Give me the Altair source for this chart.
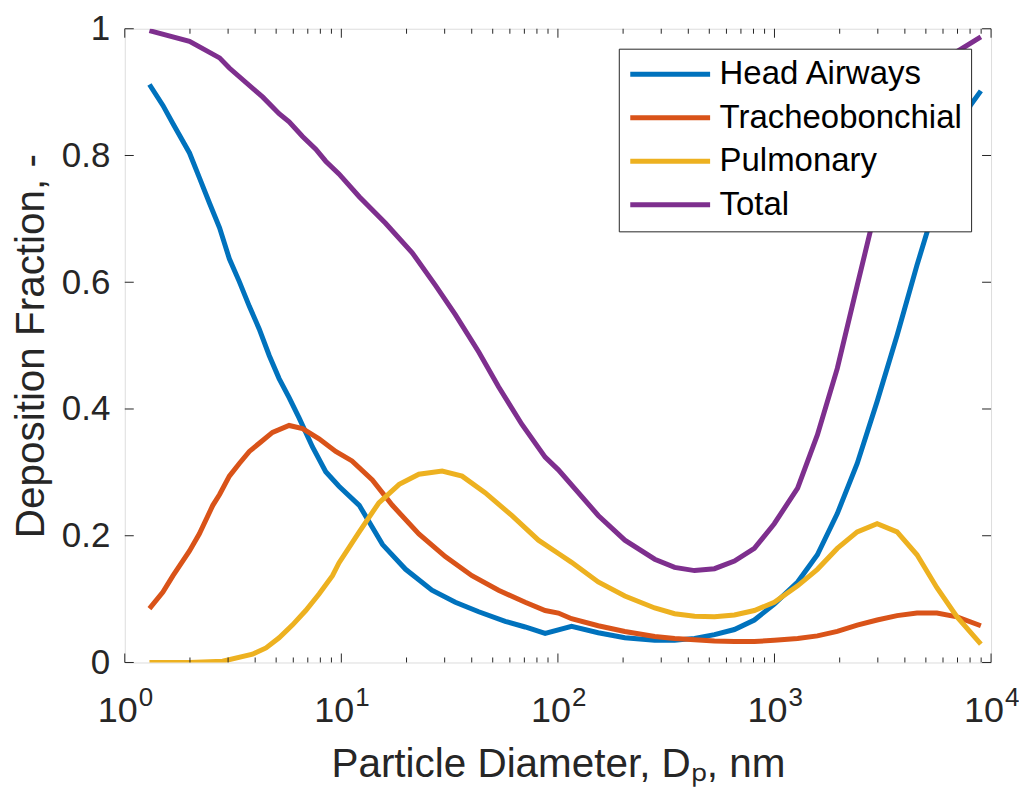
import altair as alt
import pandas as pd

# ---------------- data ----------------
series_names = ["Head Airways", "Tracheobonchial", "Pulmonary", "Total"]
series_colors = ["#0072BD", "#D95319", "#EDB120", "#7E2F8E"]

head_d = [1.30, 1.50, 1.67, 1.99, 2.21, 2.46, 2.74, 3.04, 3.38, 3.76, 4.18, 4.65, 5.16, 5.74, 6.38, 7.36,
          8.47, 9.75, 12.1, 15.5, 19.8, 26.2, 33.6, 43.1, 57.1, 70.6, 87.3, 115.6, 153.5, 203.7, 279.9,
          345.9, 427.6, 528.4, 653.1, 807.2, 997.7, 1279, 1578, 1950, 2410, 2979, 3681, 4550, 5623, 6966,
          8017, 8974]
head_v = [0.912, 0.879, 0.850, 0.804, 0.765, 0.725, 0.686, 0.637, 0.601, 0.562, 0.526, 0.484, 0.448, 0.418,
          0.386, 0.340, 0.301, 0.278, 0.248, 0.186, 0.147, 0.114, 0.095, 0.080, 0.065, 0.056, 0.046, 0.057,
          0.047, 0.039, 0.035, 0.035, 0.038, 0.044, 0.052, 0.067, 0.092, 0.127, 0.170, 0.235, 0.314, 0.412,
          0.516, 0.627, 0.730, 0.830, 0.879, 0.902]

trach_d = [1.30, 1.50, 1.67, 1.99, 2.21, 2.55, 2.74, 3.04, 3.38, 3.76, 4.18, 4.81, 5.74, 6.62, 7.89, 9.42,
           11.2, 13.9, 17.2, 22.8, 30.2, 40.1, 53.2, 70.6, 87.3, 100.5, 115.6, 153.5, 203.7, 279.9, 345.9,
           427.6, 528.4, 653.1, 807.2, 997.7, 1279, 1578, 1950, 2410, 2979, 3681, 4550, 5623, 6966, 8974]
trach_v = [0.085, 0.111, 0.137, 0.176, 0.203, 0.248, 0.265, 0.294, 0.314, 0.333, 0.346, 0.363, 0.374, 0.369,
           0.353, 0.333, 0.318, 0.288, 0.248, 0.203, 0.167, 0.137, 0.114, 0.095, 0.082, 0.078, 0.069, 0.058,
           0.049, 0.041, 0.038, 0.036, 0.034, 0.033, 0.033, 0.035, 0.038, 0.042, 0.049, 0.059, 0.067, 0.074,
           0.078, 0.078, 0.072, 0.058]

pulm_d = [1.30, 1.99, 2.83, 3.89, 4.49, 5.16, 5.94, 6.85, 7.89, 9.10, 9.75, 12.1, 14.9, 18.5, 22.8, 29.2,
          36.1, 46.1, 61.2, 81.3, 100.5, 115.6, 153.5, 203.7, 279.9, 345.9, 427.6, 528.4, 653.1, 807.2,
          997.7, 1279, 1578, 1950, 2410, 2979, 3681, 4550, 5623, 6966, 8974]
pulm_v = [0.0, 0.0, 0.002, 0.013, 0.023, 0.039, 0.059, 0.082, 0.108, 0.137, 0.157, 0.206, 0.252, 0.281,
          0.297, 0.302, 0.294, 0.268, 0.232, 0.193, 0.172, 0.158, 0.127, 0.105, 0.086, 0.077, 0.073, 0.072,
          0.075, 0.082, 0.095, 0.121, 0.147, 0.180, 0.206, 0.219, 0.206, 0.170, 0.118, 0.072, 0.029]

total_d = [1.30, 1.99, 2.74, 3.04, 4.34, 5.16, 5.74, 6.62, 7.62, 8.47, 9.75, 12.1, 16.0, 21.2, 27.2, 33.6,
           43.1, 53.2, 68.1, 87.3, 100.5, 153.5, 203.7, 279.9, 345.9, 427.6, 528.4, 653.1, 807.2, 997.7,
           1279, 1578, 1950, 2410, 2979, 3681, 4550, 5623, 6966, 8974]
total_v = [0.997, 0.980, 0.954, 0.938, 0.892, 0.866, 0.853, 0.830, 0.810, 0.791, 0.771, 0.735, 0.693, 0.647,
           0.595, 0.549, 0.490, 0.435, 0.376, 0.324, 0.304, 0.232, 0.193, 0.163, 0.150, 0.145, 0.148, 0.160,
           0.180, 0.219, 0.275, 0.359, 0.464, 0.595, 0.725, 0.820, 0.890, 0.935, 0.964, 0.987]

x_major = [1, 10, 100, 1000, 10000]
x_exponents = ["0", "1", "2", "3", "4"]
x_minor = [m * 10 ** e for e in range(4) for m in range(2, 10)]
y_ticks = [0, 0.2, 0.4, 0.6, 0.8, 1]

# ---------------- frames ----------------
rows = []
for name, ds, vs in zip(series_names, [head_d, trach_d, pulm_d, total_d], [head_v, trach_v, pulm_v, total_v]):
    for i, (d, v) in enumerate(zip(ds, vs)):
        rows.append({"series": name, "d": d, "v": v, "order": i})
df = pd.DataFrame(rows)
major_df = pd.DataFrame({"d": x_major, "exp": x_exponents})
minor_df = pd.DataFrame({"d": x_minor})
yt_df = pd.DataFrame({"v": y_ticks})

W, H = 868, 635
FONT = "Liberation Sans"
AX = "#262626"

xscale = alt.Scale(type="log", domain=[1, 10000], nice=False)
yscale = alt.Scale(domain=[0, 1], nice=False, zero=False)

x_axis = alt.Axis(labels=False, ticks=False, domain=False, grid=False,
                  title="Particle Diameter, D\u209a, nm", titleFontSize=40.5, titleFont=FONT,
                  titleFontWeight="normal", titleColor=AX, titleBaseline="alphabetic", titleY=114)
y_axis = alt.Axis(values=y_ticks, format="~g", ticks=False, domain=False, grid=False,
                  labelFontSize=35, labelFont=FONT, labelColor=AX, labelPadding=15,
                  title="Deposition Fraction, -", titleFontSize=40.5, titleFont=FONT,
                  titleFontWeight="normal", titleColor=AX, titleBaseline="alphabetic",
                  titleX=-81, titleAngle=-90)

X = alt.X("d:Q", scale=xscale, axis=x_axis)
Y = alt.Y("v:Q", scale=yscale, axis=y_axis)

lines = alt.Chart(df).mark_line(strokeWidth=5, clip=True).encode(
    x=X,
    y=Y,
    color=alt.Color("series:N", scale=alt.Scale(domain=series_names, range=series_colors),
                    legend=alt.Legend(orient="none", legendX=495, legendY=20, title=None,
                                      symbolType="stroke", symbolSize=6400, symbolStrokeWidth=5,
                                      labelFontSize=33, labelFont=FONT, labelColor="black",
                                      padding=9, strokeColor=AX, fillColor="white",
                                      labelOffset=7, rowPadding=9.6, clipHeight=33, labelLimit=500)),
    order="order:Q",
)

maj_bot = alt.Chart(major_df).mark_rule(color=AX, strokeWidth=1).encode(x=X, y=alt.value(H), y2=alt.value(H - 9))
maj_top = alt.Chart(major_df).mark_rule(color=AX, strokeWidth=1).encode(x=X, y=alt.value(0), y2=alt.value(9))
min_bot = alt.Chart(minor_df).mark_rule(color=AX, strokeWidth=1).encode(x=X, y=alt.value(H), y2=alt.value(H - 5))
min_top = alt.Chart(minor_df).mark_rule(color=AX, strokeWidth=1).encode(x=X, y=alt.value(0), y2=alt.value(5))
y_left = alt.Chart(yt_df).mark_rule(color=AX, strokeWidth=1).encode(y=Y, x=alt.value(0), x2=alt.value(9))
y_right = alt.Chart(yt_df).mark_rule(color=AX, strokeWidth=1).encode(y=Y, x=alt.value(W), x2=alt.value(W - 9))

lab_base = alt.Chart(major_df).mark_text(font=FONT, fontSize=36, color=AX, align="right",
                                         baseline="alphabetic", dx=13).encode(
    x=X, y=alt.value(H + 60), text=alt.value("10"))
lab_exp = alt.Chart(major_df).mark_text(font=FONT, fontSize=26, color=AX, align="left",
                                        baseline="alphabetic", dx=14).encode(
    x=X, y=alt.value(H + 44), text="exp:N")

chart = alt.layer(lines, maj_bot, maj_top, min_bot, min_top, y_left, y_right, lab_base, lab_exp).properties(
    width=W, height=H,
    autosize=alt.AutoSizeParams(type="none"),
    padding={"left": 117, "top": 20, "right": 28, "bottom": 132},
).configure_view(stroke=AX, strokeWidth=1).configure(font=FONT, background="white")

chart.save("out.html", embed_options={"renderer": "svg", "actions": False})
